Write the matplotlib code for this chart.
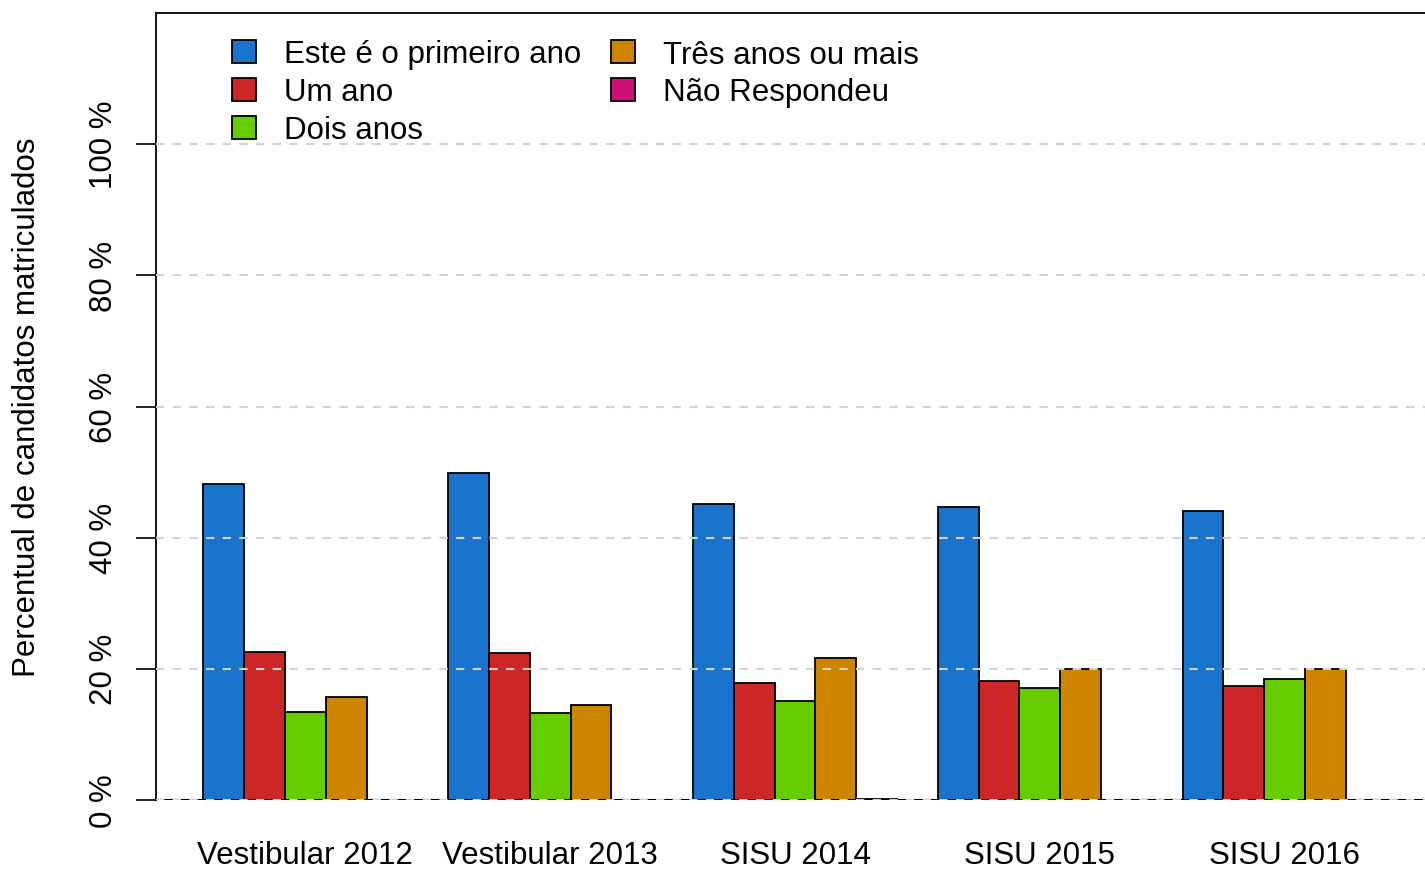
import numpy as np
import matplotlib.pyplot as plt

plt.rcParams['font.family'] = ['Liberation Sans', 'DejaVu Sans']

# data (percent)
grupos = ["Vestibular 2012", "Vestibular 2013", "SISU 2014", "SISU 2015", "SISU 2016"]
categorias = ["Este é o primeiro ano", "Um ano", "Dois anos", "Três anos ou mais", "Não Respondeu"]
primeiro_ano = [48.2, 49.8, 45.2, 44.6, 44.1]
um_ano = [22.6, 22.4, 17.9, 18.2, 17.4]
dois_anos = [13.4, 13.3, 15.1, 17.1, 18.5]
tres_ou_mais = [15.7, 14.5, 21.7, 20.0, 20.0]
nao_respondeu = [0.0, 0.0, 0.2, 0.0, 0.0]
cores = ["#1874CD", "#CD2626", "#66CD00", "#CD8500", "#CD1076"]

series = [primeiro_ano, um_ano, dois_anos, tres_ou_mais, nao_respondeu]
n_grupos = len(grupos)
n_series = len(series)
fs = 22.5

fig = plt.figure(figsize=(14.25, 8.7), dpi=100)
# plot region runs a little past the right edge of the picture, as in the reference
ax = fig.add_axes([156/1425, 1 - 801/870, 1278/1425, (801 - 14)/870])

# R barplot(beside=TRUE) layout: space of 1 bar before every group
for k, vals in enumerate(series):
    x = 1 + np.arange(n_grupos) * (n_series + 1) + k
    ax.bar(x, vals, width=1, align='edge', color=cores[k], edgecolor='black',
           linewidth=1.3, label=categorias[k], zorder=2)

ax.axhline(0, color='black', linewidth=1.5, zorder=3)
for yv in range(0, 101, 20):
    ax.axhline(yv, color='#d3d3d3', linestyle=(0, (4, 4)), linewidth=1.5, zorder=4)

ax.set_xlim(-0.16, 31.16)
ax.set_ylim(0, 120)

centros = 1 + np.arange(n_grupos) * (n_series + 1) + n_series / 2
ax.set_xticks(centros)
ax.set_xticklabels(grupos, fontsize=fs)
ax.tick_params(axis='x', length=0, pad=28.5)

ax.set_yticks(range(0, 101, 20))
ax.set_yticklabels([f"{v} %" for v in range(0, 101, 20)], rotation=90, va='center', fontsize=fs)
ax.tick_params(axis='y', length=14.4, width=1.2, pad=12.5)

ax.set_ylabel("Percentual de candidatos matriculados", fontsize=fs, va='center')
ax.yaxis.set_label_coords(-129/1278, 0.5)

for s in ['right', 'bottom']:
    ax.spines[s].set_visible(False)
ax.spines['left'].set_bounds(0, 120)
for s in ['left', 'top']:
    ax.spines[s].set_linewidth(1.3)

ax.legend(loc='upper left', bbox_to_anchor=(219/1425, 1 - 28/870), bbox_transform=fig.transFigure,
          ncol=2, frameon=False, fontsize=fs, handlelength=0.78, handleheight=0.78,
          handletextpad=0.9, columnspacing=0.95, labelspacing=0.25, borderaxespad=0)

fig.savefig("out.png", dpi=100)
